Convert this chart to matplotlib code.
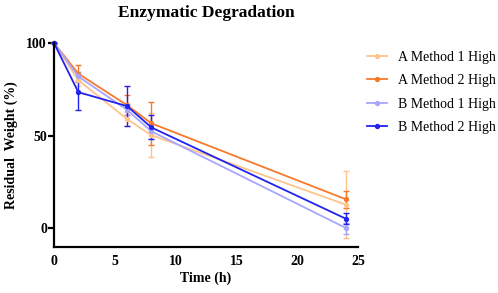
import matplotlib
matplotlib.use("Agg")
import matplotlib.pyplot as plt
from matplotlib.lines import Line2D

time_h = [0, 2, 6, 8, 24]
series_names = ["A Method 1 High", "A Method 2 High", "B Method 1 High", "B Method 2 High"]
a_m1 = [100, 80, 59, 50.3, 12.8]
a_m1_err = [0, 3, 4, 12, 18]
a_m2 = [100, 83.5, 66.5, 56.7, 15.7]
a_m2_err = [0, 4.5, 5.5, 11.5, 4.5]
b_m1 = [100, 82, 64, 52.4, 0.2]
b_m1_err = [0, 2.5, 3, 4, 3]
b_m2 = [100, 73.5, 66, 54.5, 5.2]
b_m2_err = [0, 9.5, 11, 6.5, 3]
colors = ["#FDC48C", "#F8792A", "#A6A6FF", "#2222F0"]

plt.rcParams['font.family'] = ['Liberation Serif', 'DejaVu Serif']
fig = plt.figure(figsize=(4.98, 2.93), dpi=100)
ax = fig.add_axes([0.1084, 0.157, 0.611, 0.696])

handles = []
for vals, errs, c, name in zip([a_m1, a_m2, b_m1, b_m2],
                               [a_m1_err, a_m2_err, b_m1_err, b_m2_err],
                               colors, series_names):
    ax.errorbar(time_h, vals, yerr=errs, color=c, lw=1.3, marker='o', ms=2.8,
                capsize=2, elinewidth=1.0, capthick=1.0, clip_on=False)
    handles.append(Line2D([], [], color=c, lw=1.3, marker='o', ms=2.8, label=name))

ax.set_xlim(0, 25)
ax.set_ylim(-10, 100)
ax.set_xticks([0, 5, 10, 15, 20, 25])
ax.set_yticks([0, 50, 100])
ax.spines['top'].set_visible(False)
ax.spines['right'].set_visible(False)
ax.spines['left'].set_linewidth(1.6)
ax.spines['bottom'].set_linewidth(1.6)
ax.tick_params(axis='x', length=0, pad=6, labelsize=10)
ax.tick_params(axis='y', length=4, width=1.6, labelsize=10, pad=1)
for lab in ax.get_xticklabels() + ax.get_yticklabels():
    lab.set_fontweight('bold')
ax.set_xlabel("Time (h)", fontsize=10, fontweight='bold', labelpad=2)
ax.set_ylabel("Residual  Weight (%)", fontsize=10, fontweight='bold', labelpad=6)
fig.text(0.414, 0.955, "Enzymatic Degradation", ha='center', va='center',
         fontsize=12.5, fontweight='bold')

leg = fig.legend(handles=handles, loc='upper left', bbox_to_anchor=(0.737, 0.826),
                 frameon=False, fontsize=10, handlelength=1.45, labelspacing=0.74,
                 handletextpad=0.8, borderaxespad=0, borderpad=0)

fig.savefig("out.png", dpi=100)
